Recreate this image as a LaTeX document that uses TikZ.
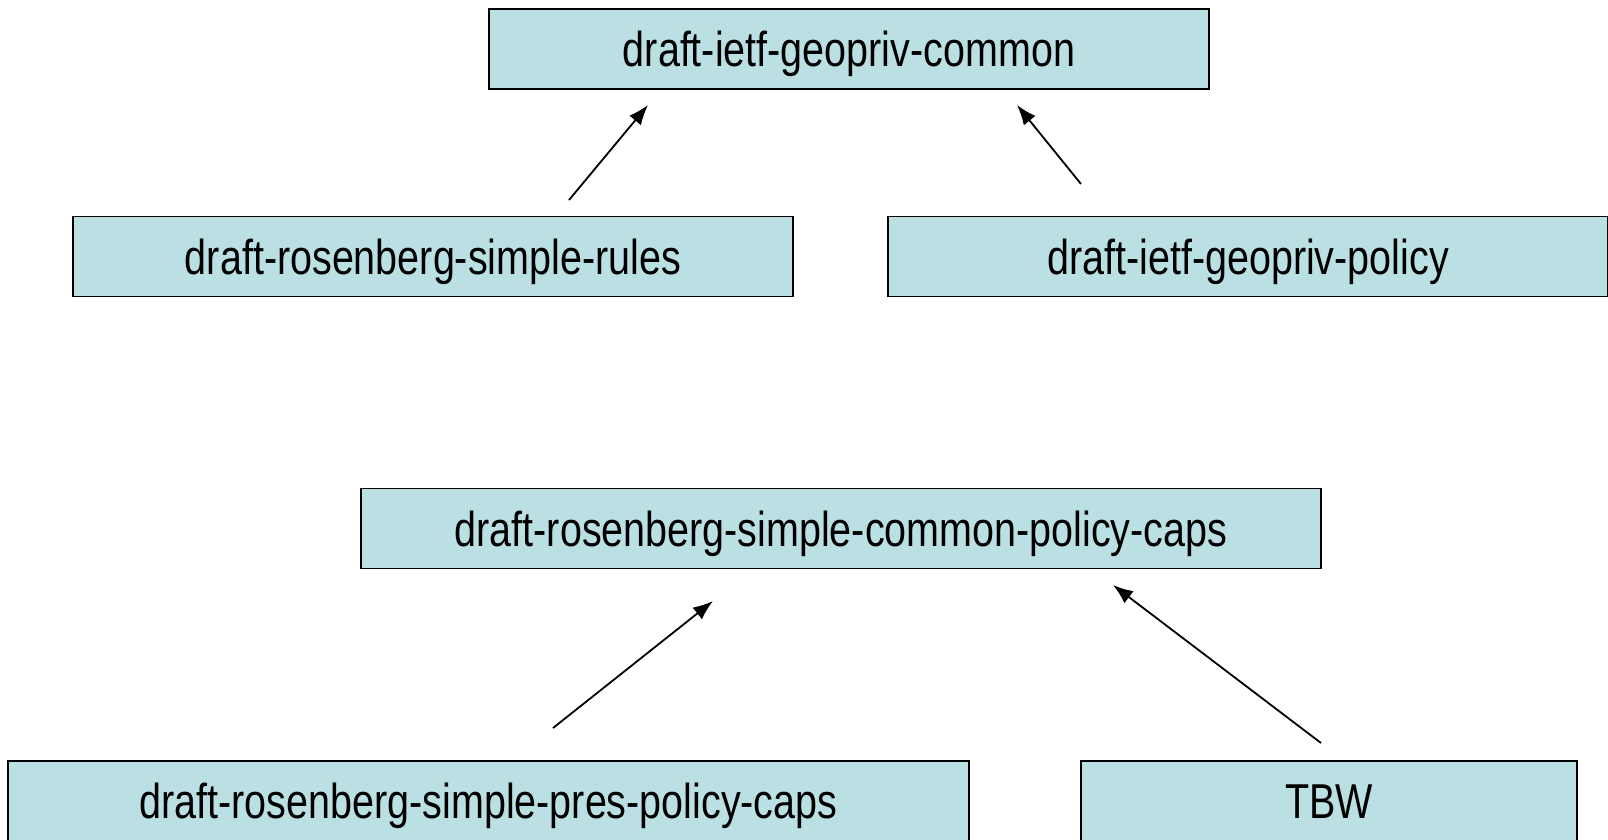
\documentclass[tikz,border=0pt]{standalone}
\usepackage{fontspec}
\setmainfont{Liberation Sans}[FakeStretch=0.806]
\usepackage{tikz}
\definecolor{draftblue}{RGB}{187, 224, 227}
\usetikzlibrary{arrows.meta, positioning}

\begin{document}
\begin{tikzpicture}[x=1pt, y=-1pt,
				>={Latex[length=20pt,width=15pt]},   %Voreinstellung für Pfeilspitzen
				draft/.style={draw, line width=1.3pt, fill=draftblue, minimum height=80pt,
					inner sep=0pt, text height=40pt, text depth=5pt},
				font=\fontsize{49}{58}\selectfont]
				\useasboundingbox (0,0) rectangle (1608,839);
				% Kaesten
				\node[draft, minimum width=720pt] (common) at (849,49) {draft-ietf-geopriv-common};
				\node[draft, minimum width=720pt] (rules) at (433,256.5) {draft-rosenberg-simple-rules};
				\node[draft, minimum width=720pt] (policy) at (1248,256.5) {draft-ietf-geopriv-policy};
				\node[draft, minimum width=960pt] (caps) at (841,528.5) {draft-rosenberg-simple-common-policy-caps};
				\node[draft, minimum width=961pt] (pres) at (488.5,801) {draft-rosenberg-simple-pres-policy-caps};
				\node[draft, minimum width=496pt] (tbw) at (1329,801) {TBW};
				% Pfeilenden
				\coordinate (rules-out) at (569,200);
				\coordinate (common-in1) at (648,105);
				\coordinate (policy-out) at (1081,184);
				\coordinate (common-in2) at (1017,105);
				\coordinate (pres-out) at (553,728);
				\coordinate (caps-in1) at (713,601);
				\coordinate (tbw-out) at (1321,743);
				\coordinate (caps-in2) at (1113,585);
				% Pfeile zeichnen
				\draw[->, line width=1.8pt] (rules-out) -- (common-in1);
				\draw[->, line width=1.8pt] (policy-out) -- (common-in2);
				\draw[->, line width=1.8pt] (pres-out) -- (caps-in1);
				\draw[->, line width=1.8pt] (tbw-out) -- (caps-in2);
			\end{tikzpicture}
\end{document}
